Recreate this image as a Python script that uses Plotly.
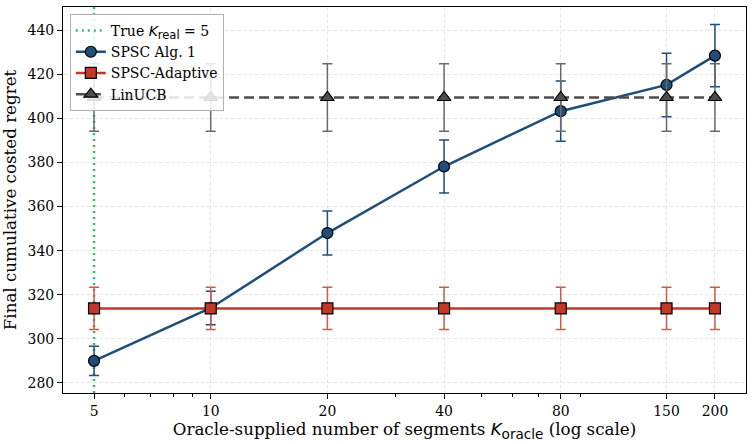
import numpy as np
import plotly.graph_objects as go

# ---- data ----
K_oracle = [5, 10, 20, 40, 80, 150, 200]
K_real = 5
spsc_mean = [290.0, 314.0, 348.0, 378.2, 403.3, 415.2, 428.5]
spsc_err = [6.6, 7.6, 10.0, 12.0, 13.7, 14.4, 14.1]
adapt_mean = [313.8, 313.8, 313.8, 313.8, 313.8, 313.8, 313.8]
adapt_err = [9.6, 9.6, 9.6, 9.6, 9.6, 9.6, 9.6]
lin_mean = [409.5, 409.5, 409.5, 409.5, 409.5, 409.5, 409.5]
lin_err = [15.3, 15.3, 15.3, 15.3, 15.3, 15.3, 15.3]
x_ticks = [5, 10, 20, 40, 80, 150, 200]
x_minor = [6, 7, 8, 9, 30, 50, 60, 70, 90]
y_ticks = [280, 300, 320, 340, 360, 380, 400, 420, 440]

BLUE = "#1f4e79"
RED = "#c0392b"
GRAY = "#4d4d4d"
GREEN = "#3dbb6e"
SERIF = "DejaVu Serif"

# axis ranges like matplotlib's 5% margins
series = [(spsc_mean, spsc_err), (adapt_mean, adapt_err), (lin_mean, lin_err)]
lo = min(min(np.array(m) - np.array(e)) for m, e in series)
hi = max(max(np.array(m) + np.array(e)) for m, e in series)
pad = 0.05 * (hi - lo)
y_range = [lo - pad, hi + pad]
lx0, lx1 = np.log10(min(K_oracle)), np.log10(max(K_oracle))
xpad = 0.05 * (lx1 - lx0)
x_range = [lx0 - xpad, lx1 + xpad]


def math_k(sub, size):
    return ("<span style='font-family:DejaVu Sans'><i>K</i><sub>"
            f"<span style='font-size:{size}px'>{sub}</span></sub></span>")


fig = go.Figure()

fig.add_trace(go.Scatter(
    x=[K_real, K_real], y=y_range, mode="lines",
    line=dict(color=GREEN, width=2.5, dash="2px,4px"),
    name="True " + math_k("real", 11.5) + " = 5",
))

fig.add_trace(go.Scatter(
    x=K_oracle, y=spsc_mean, mode="lines+markers", name="SPSC Alg. 1",
    line=dict(color=BLUE, width=2.5),
    marker=dict(symbol="circle", size=11, color=BLUE,
                line=dict(color="black", width=1.2)),
    error_y=dict(type="data", array=spsc_err, color=BLUE, thickness=1.5, width=5),
))

fig.add_trace(go.Scatter(
    x=K_oracle, y=adapt_mean, mode="lines+markers", name="SPSC-Adaptive",
    line=dict(color=RED, width=2.5),
    marker=dict(symbol="square", size=11, color=RED,
                line=dict(color="black", width=1.2)),
    error_y=dict(type="data", array=adapt_err, color="#d0594c", thickness=1.5, width=5),
))

fig.add_trace(go.Scatter(
    x=K_oracle, y=lin_mean, mode="lines+markers", name="LinUCB",
    line=dict(color=GRAY, width=2.5, dash="10px,5px"),
    marker=dict(symbol="triangle-up", size=12, color=GRAY,
                line=dict(color="black", width=1.2)),
    error_y=dict(type="data", array=lin_err, color="#6a6a6a", thickness=1.5, width=5),
))

grid = dict(showgrid=True, gridcolor="rgba(0,0,0,0.09)", griddash="4px,2px", gridwidth=0.7)

fig.update_layout(
    width=753, height=444,
    margin=dict(l=63, r=7, t=7, b=51),
    paper_bgcolor="white", plot_bgcolor="white",
    font=dict(family=SERIF, size=13.9, color="black"),
    showlegend=True,
    legend=dict(
        x=0.01, y=0.982, xanchor="left", yanchor="top",
        bgcolor="rgba(255,255,255,0.85)", bordercolor="#b0b0b0", borderwidth=1,
        font=dict(family=SERIF, size=14), traceorder="normal",
        itemwidth=30, tracegroupgap=0,
    ),
    xaxis=dict(
        type="log", range=x_range,
        tickmode="array", tickvals=x_ticks, ticktext=[str(v) for v in x_ticks],
        ticks="outside", ticklen=5, tickwidth=1, tickcolor="black",
        showline=True, linecolor="black", linewidth=1.3, mirror=True,
        minor=dict(tickmode="array", tickvals=x_minor, ticks="outside",
                   ticklen=2.5, tickwidth=0.8, tickcolor="black", showgrid=False),
        zeroline=False,
        title=dict(text="Oracle-supplied number of segments " + math_k("oracle", 13.6)
                        + " (log scale)",
                   font=dict(family=SERIF, size=16.7), standoff=5),
        tickfont=dict(family=SERIF, size=13.9),
        **grid,
    ),
    yaxis=dict(
        range=y_range,
        tickmode="array", tickvals=y_ticks,
        ticks="outside", ticklen=5, tickwidth=1, tickcolor="black",
        showline=True, linecolor="black", linewidth=1.3, mirror=True,
        zeroline=False,
        title=dict(text="Final cumulative costed regret",
                   font=dict(family=SERIF, size=16.7), standoff=7),
        tickfont=dict(family=SERIF, size=13.9),
        **grid,
    ),
)

fig.write_html("out.html")
